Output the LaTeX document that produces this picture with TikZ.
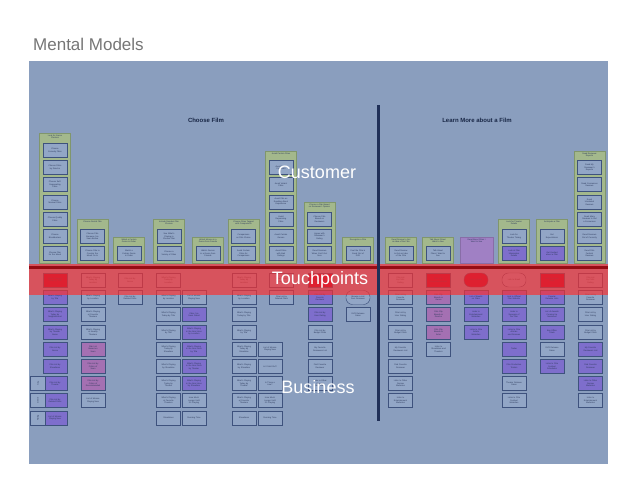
\documentclass[tikz,border=0pt]{standalone}
\usepackage{fontspec}
\setmainfont{Liberation Sans}
\definecolor{panel}{RGB}{138,158,190}
\definecolor{grpfill}{RGB}{163,184,140}
\definecolor{grpline}{RGB}{128,150,108}
\definecolor{boxfill}{RGB}{146,166,198}
\definecolor{boxline}{RGB}{62,82,125}
\definecolor{purp}{RGB}{126,110,204}
\definecolor{pinkp}{RGB}{164,112,178}
\definecolor{crim}{RGB}{160,0,50}
\definecolor{purgrp}{RGB}{160,128,196}
\definecolor{bandred}{RGB}{252,48,48}
\definecolor{darkred}{RGB}{150,12,20}
\definecolor{navy}{RGB}{32,48,88}
\definecolor{titlegray}{RGB}{118,118,118}
\definecolor{boxtext}{RGB}{45,58,92}
\tikzset{
  ibox/.style={draw=boxline, fill=boxfill, line width=0.45pt, minimum width=24pt, minimum height=14pt, inner sep=0pt, text width=23pt, align=center, font=\fontsize{2.1}{2.5}\selectfont, text=boxtext},
  pbox/.style={ibox, fill=purp},
  kbox/.style={ibox, fill=pinkp},
  rbox/.style={ibox, fill=crim},
  ebox/.style={ibox, rounded corners=6.5pt},
  rebox/.style={ebox, fill=crim},
  nbox/.style={ibox, minimum width=6pt, text width=14pt, minimum height=15pt, rotate=90},
  grpbg/.style={draw=grpline, fill=grpfill, line width=0.4pt, minimum width=31pt, inner sep=0pt},
  hdr/.style={inner sep=0pt, align=center, font=\fontsize{2.1}{2.5}\selectfont, text=boxtext},
  sect/.style={inner sep=0pt, font=\fontsize{6}{7}\selectfont\bfseries, text=navy!80!black},
  big/.style={inner sep=0pt, font=\fontsize{18}{20}\selectfont, text=white}
}
\newcommand\grp[5][grpbg]{%
  \node[#1, minimum height={(263-#4)*1pt}] (#2) at (#3,{(#4+263)/2}) {};
  \node[hdr, anchor=north] (#2h) at (#3,{#4+1.5}) {#5};}
\newcommand\bx[5]{\node[#2] (#1) at (#3,#4) {#5};}
\begin{document}
\begin{tikzpicture}[x=1pt,y=-1pt]
\useasboundingbox (0,0) rectangle (638,493);
\fill[white] (0,0) rectangle (638,493);
\node[anchor=base west, inner sep=0pt, font=\fontsize{17}{20}\selectfont, text=titlegray] (title) at (33,50) {Mental Models};
\node[fill=panel, inner sep=0pt, minimum width=579pt, minimum height=403pt, anchor=north west] (panel) at (29,61) {};
\node[sect] (choose) at (206,120) {Choose Film};
\node[sect] (learn) at (477,120) {Learn More about a Film};
% ---------- upper groups ----------
\grp{g1}{55}{133}{Look for Genre\\Clusters}
\bx{g1a}{ibox}{55}{150.3}{Choose\\Comedy Films}
\bx{g1b}{ibox}{55}{167.5}{Choose Films\\by Director}
\bx{g1c}{ibox}{55}{184.7}{Choose Self-\\Deprecating\\Films}
\bx{g1d}{ibox}{55}{201.9}{Choose\\Musical Films}
\bx{g1e}{ibox}{55}{219.1}{Choose Quality\\Films}
\bx{g1f}{ibox}{55}{236.3}{Choose\\Blockbusters}
\bx{g1g}{ibox}{55}{253.5}{Choose Film\\for the Mood}
\grp{g2}{92.5}{219}{Choose Rental Film}
\bx{g2a}{ibox}{92.5}{236.3}{Choose Film\\Because I've\\Seen Before}
\bx{g2b}{ibox}{92.5}{253.5}{Choose Film to\\Counter the\\Mood I'm In}
\grp{g3}{129}{237}{Watch a Certain\\Genre in Order}
\bx{g3a}{ibox}{129}{253.5}{Watch a\\Certain Genre\\in Order}
\grp{g4}{169}{219}{Include Random Film\\Choices}
\bx{g4a}{ibox}{169}{236.3}{See What's\\Playing in\\Chosen Film}
\bx{g4b}{ibox}{169}{253.5}{Choose a\\Variety of Films}
\grp{g5}{208}{237}{Watch Movies in a\\Genre from Friends}
\bx{g5a}{ibox}{208}{253.5}{Watch Genres\\in a Genre from\\Friends}
\grp{g6}{243.5}{219}{Choose Films Tagged\\with Companions}
\bx{g6a}{ibox}{243.5}{236.3}{Companions\\on Film Choice}
\bx{g6b}{ibox}{243.5}{253.5}{Avoid Certain\\Films for\\Companions}
\grp{g7}{281}{151}{Avoid Certain Films}
\bx{g7a}{ibox}{281}{167.5}{Avoid Films\\I've Seen}
\bx{g7b}{ibox}{281}{184.7}{Avoid Violent\\Films}
\bx{g7c}{ibox}{281}{201.9}{Avoid Film as\\Reading About\\Experience}
\bx{g7d}{ibox}{281}{219.1}{Avoid\\Depressing\\Films}
\bx{g7e}{ibox}{281}{236.3}{Avoid Certain\\Genres}
\bx{g7f}{ibox}{281}{253.5}{Avoid Films\\with Bad\\Ratings}
\grp{g8}{319.5}{202}{Choose a Film Based\\on Reviewers' Opinion}
\bx{g8a}{ibox}{319.5}{219.1}{Choose Film\\Based on\\Reviewers}
\bx{g8b}{ibox}{319.5}{236.3}{Agree with\\Reviewer's\\Rating}
\bx{g8c}{ibox}{319.5}{253.5}{Read Reviews\\When Can't Get\\Sure}
\grp{g9}{358}{237}{Recognize a Film}
\bx{g9a}{ibox}{358}{253.5}{Feel the Film is\\Good Out of\\DVD}
\grp{g10}{401}{237}{Read Review to Get\\an Idea of the Film}
\bx{g10a}{ibox}{401}{253.5}{Read Review\\to Get an Idea\\of the Film}
\grp{g11}{438}{237}{Talk About Films I\\Want to See}
\bx{g11a}{ibox}{438}{253.5}{Talk About\\Films I Want to\\See}
\grp[grpbg, fill=purgrp, draw=purgrp!85!black, minimum width=33pt]{g12}{476.5}{237}{Read About Films I\\Want to See}
\grp{g13}{514}{219}{Look for Theater\\Details}
\bx{g13a}{ibox}{514}{236.3}{Look for\\Theater Timing}
\bx{g13b}{pbox}{514}{253.5}{Look at Film\\Information\\Details}
\grp{g14}{552}{219}{Anticipate a Film}
\bx{g14a}{ibox}{552}{236.3}{Get\\Expectations}
\bx{g14b}{pbox}{552}{253.5}{Get Excited\\about a Film}
\grp{g15}{589.5}{151}{Read Reviewer\\Reports}
\bx{g15a}{ibox}{589.5}{167.5}{Read My\\Reviewer's\\Reports}
\bx{g15b}{ibox}{589.5}{184.7}{Read Consensus\\Reviews}
\bx{g15c}{ibox}{589.5}{201.9}{Read\\Unrelated\\Reviews}
\bx{g15d}{ibox}{589.5}{219.1}{Read Many\\Reviews to Get\\a Consensus}
\bx{g15e}{ibox}{589.5}{236.3}{Read Reviews\\Out of Curiosity}
\bx{g15f}{ibox}{589.5}{253.5}{Read Film\\Festival\\Reviews}
% ---------- lower columns ----------
% A
\bx{a0}{rbox}{55}{280}{What's Playing\\Today by Title}
\bx{a1}{pbox}{55}{297.5}{What's Playing\\by Title}
\bx{a2}{pbox}{55}{314.7}{What's Playing\\Today by\\Neighborhood}
\bx{a3}{pbox}{55}{331.9}{What's Playing\\by Theater\\Name}
\bx{a4}{pbox}{55}{349.1}{Film List by\\Genre}
\bx{a5}{pbox}{55}{366.3}{Film List by\\Showtimes}
\bx{a6}{pbox}{55}{383.5}{Film List by\\Theater}
\bx{a7}{pbox}{55}{400.7}{Film List by\\Related Films}
\bx{a8}{pbox}{55}{417.9}{List of Movies\\Playing Now}
\bx{n6}{nbox}{38}{383.5}{Title}
\bx{n7}{nbox}{38}{400.7}{Genre}
\bx{n8}{nbox}{38}{417.9}{Rating}
% B
\bx{b0}{ibox}{93}{280}{What's Playing\\Today by\\Location}
\bx{b1}{ibox}{93}{297.5}{What's Playing\\by Location}
\bx{b2}{ibox}{93}{314.7}{What's Playing\\at Favorite\\Theaters}
\bx{b3}{ibox}{93}{331.9}{What's Playing\\at Nearby\\Theaters}
\bx{b4}{kbox}{93}{349.1}{Film List\\Based on\\Seen}
\bx{b5}{kbox}{93}{366.3}{Film List by\\Critics of\\Seen}
\bx{b6}{kbox}{93}{383.5}{Film List by\\Critics of\\Recommended}
\bx{b7}{ibox}{93}{400.7}{List of Movies\\Playing Now}
% C
\bx{c0}{ibox}{130}{280}{Film List by\\Genre}
\bx{c1}{ibox}{130}{297.5}{Film List by\\Related Films}
% D
\bx{d0}{ibox}{168.5}{280}{What's Playing\\Today by\\Location}
\bx{d1}{ibox}{168.5}{297.5}{What's Playing\\by Location}
\bx{d2}{ibox}{168.5}{314.7}{What's Playing\\Today by Title}
\bx{d3}{ibox}{168.5}{331.9}{What's Playing\\by Title}
\bx{d4}{ibox}{168.5}{349.1}{What's Playing\\Today by\\Showtime}
\bx{d5}{ibox}{168.5}{366.3}{What's Playing\\by Showtime}
\bx{d6}{ibox}{168.5}{383.5}{What's Playing\\Today by\\Theater}
\bx{d7}{ibox}{168.5}{400.7}{What's Playing\\at Favorite\\Theaters}
\bx{d8}{ibox}{168.5}{417.9}{Showtimes}
% E
\bx{e1}{ibox}{194}{297.5}{List of Movies\\Playing Now}
\bx{e2}{pbox}{194}{314.7}{Films I've\\Seen Rated}
\bx{e3}{pbox}{194}{331.9}{What's Playing\\in the Next Hour\\by Location}
\bx{e4}{pbox}{194}{349.1}{What's Playing\\in the Next Hour\\by Title}
\bx{e5}{pbox}{194}{366.3}{What's Playing\\in the Next Hour\\by Theater}
\bx{e6}{pbox}{194}{383.5}{What's Playing\\in the Next Hour\\by Showtime}
\bx{e7}{ibox}{194}{400.7}{How Much\\Longer Until\\It's Playing}
\bx{e8}{ibox}{194}{417.9}{Running Time}
% F
\bx{f0}{ibox}{244}{280}{What's Playing\\Today by\\Location}
\bx{f1}{ibox}{244}{297.5}{What's Playing\\by Location}
\bx{f2}{ibox}{244}{314.7}{What's Playing\\Today by Title}
\bx{f3}{ibox}{244}{331.9}{What's Playing\\by Title}
\bx{f4}{ibox}{244}{349.1}{What's Playing\\Today by\\Showtime}
\bx{f5}{ibox}{244}{366.3}{What's Playing\\by Showtime}
\bx{f6}{ibox}{244}{383.5}{What's Playing\\Today by\\Theater}
\bx{f7}{ibox}{244}{400.7}{What's Playing\\at Favorite\\Theaters}
\bx{f8}{ibox}{244}{417.9}{Showtimes}
% G
\bx{h4}{ibox}{270}{349.1}{List of Movies\\Playing Now}
\bx{h5}{ibox}{270}{366.3}{Is It Sold Out?}
\bx{h6}{ibox}{270}{383.5}{Is There a\\Line?}
\bx{h7}{ibox}{270}{400.7}{How Much\\Longer Until\\It's Playing}
\bx{h8}{ibox}{270}{417.9}{Running Time}
\bx{i0}{ibox}{281.5}{280}{Film List by\\Genre}
\bx{i1}{ibox}{281.5}{297.5}{Film List by\\Related Films}
% H
\bx{j0}{rbox}{320}{280}{Film List by\\Critic Rating}
\bx{j1}{pbox}{320}{297.5}{Film List by\\Favorite\\Reviewer}
\bx{j2}{pbox}{320}{314.7}{Film List by\\User Rating}
\bx{j3}{ibox}{320}{331.9}{Film List by\\Budget Films}
\bx{j4}{ibox}{320}{349.1}{My Favorite\\Reviewers List}
\bx{j5}{ibox}{320}{366.3}{Find Favorite\\Reviewer}
\bx{j6}{ibox}{320}{383.5}{Links to Other\\Review\\Websites}
% I
\bx{k1}{ebox}{358}{297.5}{Browse a List\\from Reviewer}
\bx{k2}{ibox}{358}{314.7}{DVD Release\\Dates}
% J
\bx{l0}{ibox}{400.5}{280}{Film List\\by Critic\\Rating}
\bx{l1}{ibox}{400.5}{297.5}{Film List by\\Favorite\\Reviewer}
\bx{l2}{ibox}{400.5}{314.7}{Film List by\\User Rating}
\bx{l3}{ibox}{400.5}{331.9}{Film List by\\Budget Films}
\bx{l4}{ibox}{400.5}{349.1}{My Favorite\\Reviewers List}
\bx{l5}{ibox}{400.5}{366.3}{Find Favorite\\Reviewer}
\bx{l6}{ibox}{400.5}{383.5}{Links to Other\\Review\\Websites}
\bx{l7}{ibox}{400.5}{400.7}{Links to\\Entertainment\\Websites}
% K
\bx{m0}{rbox}{438.5}{280}{Film Clip\\Recommendations}
\bx{m1}{kbox}{438.5}{297.5}{Film Clip\\Based on\\Genre}
\bx{m2}{kbox}{438.5}{314.7}{Film Clip\\Based on\\Director}
\bx{m3}{kbox}{438.5}{331.9}{Film Clip\\Based on\\Actor}
\bx{m4}{ibox}{438.5}{349.1}{Links to\\Showtimes and\\Theaters}
% L
\bx{o0}{rebox}{476}{280}{Link to Email}
\bx{o1}{pbox}{476}{297.5}{List of Emails\\on Films}
\bx{o2}{pbox}{476}{314.7}{Links to\\Entertainment\\Websites}
\bx{o3}{pbox}{476}{331.9}{Links to Film\\Article\\Websites}
% M
\bx{p0}{ebox}{514}{280}{Link to Email}
\bx{p1}{pbox}{514}{297.5}{Link to Official\\Film Website}
\bx{p2}{pbox}{514}{314.7}{Links to\\Synopsis of\\the Film}
\bx{p3}{pbox}{514}{331.9}{Links to Film\\Articles\\and Reviews}
\bx{p4}{pbox}{514}{349.1}{Trailer}
\bx{p5}{pbox}{514}{366.3}{Film Production\\Trailers}
\bx{p6}{ibox}{514}{383.5}{Theater Release\\Dates}
\bx{p7}{ibox}{514}{400.7}{Links to Film\\Festival\\Websites}
% N
\bx{q0}{rbox}{552}{280}{Link to Gossip\\Blogs}
\bx{q1}{pbox}{552}{297.5}{Popular\\Release Lists}
\bx{q2}{pbox}{552}{314.7}{List of Awards\\Coming Up\\Nominees}
\bx{q3}{pbox}{552}{331.9}{Box Office\\Totals}
\bx{q4}{ibox}{552}{349.1}{DVD Release\\Dates}
\bx{q5}{pbox}{552}{366.3}{Links to Film\\Festival\\Schedules}
% O
\bx{r0}{ibox}{590.5}{280}{Film List\\by Critic\\Rating}
\bx{r1}{ibox}{590.5}{297.5}{Film List by\\Favorite\\Reviewer}
\bx{r2}{ibox}{590.5}{314.7}{Film List by\\User Rating}
\bx{r3}{ibox}{590.5}{331.9}{Film List by\\Budget Films}
\bx{r4}{pbox}{590.5}{349.1}{My Favorite\\Reviewers List}
\bx{r5}{pbox}{590.5}{366.3}{Find Favorite\\Reviewer}
\bx{r6}{pbox}{590.5}{383.5}{Links to Other\\Review\\Websites}
\bx{r7}{ibox}{590.5}{400.7}{Links to\\Entertainment\\Websites}
% ---------- touchpoint band ----------
\node[fill=bandred, fill opacity=0.68, inner sep=0pt, minimum width=579pt, minimum height=31pt, anchor=north west] (band) at (29,263.5) {};
\coordinate (lineL) at (29,267.5);
\coordinate (lineR) at (608,267.5);
\draw[darkred, line width=2.6pt] (lineL) -- (lineR);
\coordinate (vtop) at (378.5,105);
\coordinate (vbot) at (378.5,421);
\draw[navy, line width=2.4pt] (vtop) -- (vbot);
% ---------- big labels ----------
\node[big] (customer) at (317,172) {Customer};
\node[big] (touch) at (320,280) {Touchpoints};
\node[big] (business) at (318,387) {Business};
\end{tikzpicture}
\end{document}
